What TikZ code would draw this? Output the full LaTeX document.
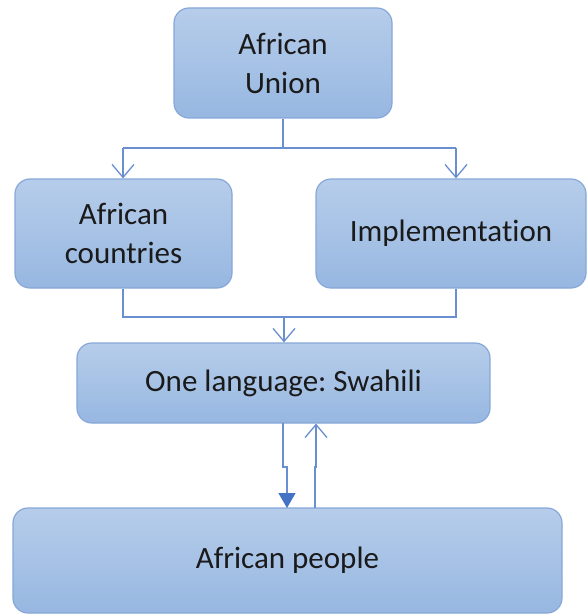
\documentclass[tikz,border=0pt]{standalone}
\usepackage{fontspec}
\setmainfont{Carlito}[Ligatures=CommonOff]
\frenchspacing
\usetikzlibrary{arrows.meta}
\definecolor{boxtop}{HTML}{B6CDEA}
\definecolor{boxbot}{HTML}{97B7E1}
\definecolor{boxline}{HTML}{86A7D8}
\definecolor{conn}{HTML}{6A8FD0}
\definecolor{tipfill}{HTML}{4472C4}
\definecolor{txt}{HTML}{1A1A1A}
\tikzset{
  box/.style={draw=boxline, line width=1.2pt, rounded corners=15pt, top color=boxtop, bottom color=boxbot,
    align=center, text=txt, font=\fontsize{31}{39}\selectfont, inner sep=0pt},
  conn/.style={draw=conn, line width=1.3pt},
  openarr/.style={conn, -{Straight Barb[length=13pt,width=22pt,line width=1.3pt]}},
  fillarr/.style={conn, -{Triangle[length=15pt,width=17pt,fill=tipfill,color=tipfill]}}
}
\begin{document}
\begin{tikzpicture}[x=1pt,y=-1pt]
\useasboundingbox (0,0) rectangle (587,615);
\node[box, minimum width=218pt, minimum height=110pt] (au) at (283,63) {African\\Union};
\node[box, minimum width=217pt, minimum height=109pt] (ac) at (123.5,233.5) {African\\countries};
\node[box, minimum width=270pt, minimum height=109pt] (im) at (451,233.5) {Implementation};
\node[box, minimum width=413pt, minimum height=80pt] (sw) at (283.5,383) {One language: Swahili};
\node[box, minimum width=549pt, minimum height=105pt] (ap) at (287.5,560.5) {African people};
\coordinate (j1) at (283,148);
\coordinate (l1) at (123,148);
\coordinate (r1) at (456,148);
\coordinate (l2) at (123,317);
\coordinate (r2) at (456,317);
\coordinate (m2) at (284,317);
\draw[conn] (au.south) -- (j1);
\draw[conn] (l1) -- (r1);
\draw[openarr] (l1) -- (l1 |- ac.north);
\draw[openarr] (r1) -- (r1 |- im.north);
\draw[conn] (ac.south -| l2) -- (l2) -- (r2) -- (im.south -| r2);
\draw[openarr] (m2) -- (m2 |- sw.north);
\draw[fillarr] (283,423) -- (283,467) -- (287,467) -- (287,508);
\draw[openarr] (315,508) -- (315,467) -- (316,467) -- (316,423.6);
\end{tikzpicture}
\end{document}
